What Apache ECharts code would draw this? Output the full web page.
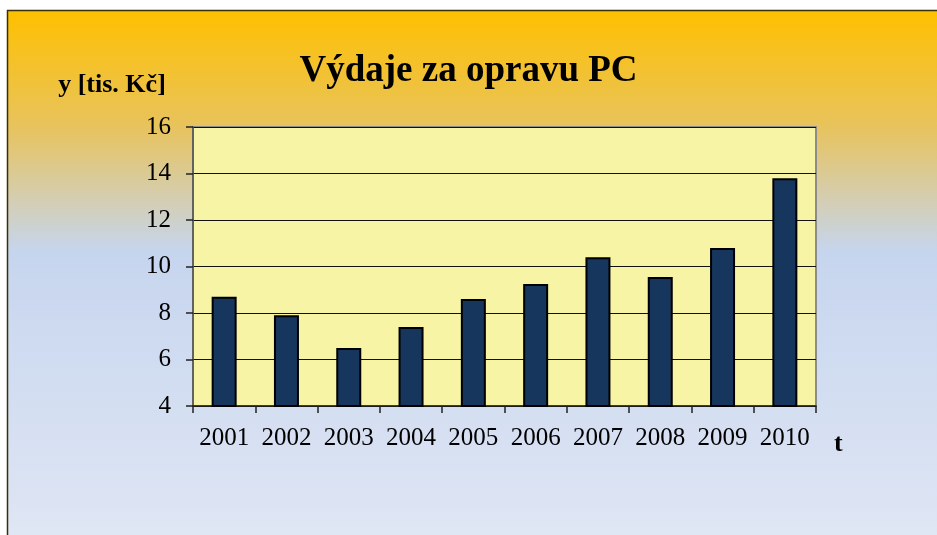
<!DOCTYPE html>
<html>
<head>
<meta charset="utf-8">
<script src="https://cdn.jsdelivr.net/npm/echarts@6/dist/echarts.min.js"></script>
<style>
  html, body { margin: 0; padding: 0; background: #fff; }
  #chart { width: 937px; height: 535px; }
</style>
</head>
<body>
<div id="chart"></div>
<script>
// data
var years = ['2001', '2002', '2003', '2004', '2005', '2006', '2007', '2008', '2009', '2010'];
var vydaje = [8.7, 7.9, 6.5, 7.4, 8.6, 9.25, 10.4, 9.55, 10.8, 13.8];
var yMin = 4, yMax = 16, yStep = 2;

var serif = '"Liberation Serif", "DejaVu Serif", serif';
var chart = echarts.init(document.getElementById('chart'));

var option = {
    backgroundColor: '#fff',
    animation: false,
    graphic: [
        // pozadi s prechodem
        {
            type: 'rect',
            z: -10,
            shape: { x: 7, y: 10, width: 930, height: 525 },
            style: {
                fill: new echarts.graphic.LinearGradient(0, 0, 0, 1, [
                    { offset: 0, color: '#FFC000' },
                    { offset: 0.22, color: '#E8C35C' },
                    { offset: 0.46, color: '#C6D5EE' },
                    { offset: 1, color: '#DFE6F4' }
                ]),
                stroke: null
            }
        },
        {
            type: 'polyline',
            z: -9,
            shape: { points: [[7.5, 535], [7.5, 10.5], [937, 10.5]] },
            style: { stroke: '#3b2d05', lineWidth: 1.5, fill: null }
        },
        {
            type: 'text',
            left: 834,
            top: 431,
            style: { text: 't', font: 'bold 26px ' + serif, fill: '#000' }
        }
    ],
    title: {
        text: 'Výdaje za opravu PC',
        left: 'center',
        top: 48,
        itemGap: 0,
        textStyle: { fontFamily: serif, fontWeight: 'bold', fontSize: 37, color: '#000' }
    },
    grid: {
        left: 193,
        top: 127,
        right: 121,
        bottom: 129,
        show: true,
        backgroundColor: '#F8F4A6',
        borderColor: '#8c8c8c',
        borderWidth: 2
    },
    xAxis: {
        type: 'category',
        data: years,
        axisLine: { lineStyle: { color: '#222', width: 1.5 } },
        axisTick: { show: true, length: 7, inside: false, lineStyle: { color: '#222', width: 1.5 } },
        axisLabel: { interval: 0, color: '#000', fontFamily: serif, fontSize: 25, margin: 20 },
        splitLine: { show: false }
    },
    yAxis: {
        type: 'value',
        min: yMin,
        max: yMax,
        interval: yStep,
        name: 'y [tis. Kč]',
        nameLocation: 'end',
        nameGap: 29,
        nameTextStyle: { fontFamily: serif, fontWeight: 'bold', fontSize: 26, color: '#000', align: 'center', padding: [0, 162, 0, 0] },
        axisLine: { show: true, lineStyle: { color: '#555', width: 1.5 } },
        axisTick: { show: true, length: 7, lineStyle: { color: '#222', width: 1.5 } },
        axisLabel: { color: '#000', fontFamily: serif, fontSize: 25, margin: 22 },
        splitLine: { show: true, lineStyle: { color: '#111', width: 1.2 } }
    },
    series: [{
        name: 'Výdaje',
        type: 'bar',
        data: vydaje,
        barWidth: 25,
        itemStyle: { color: '#17365D', borderColor: '#000', borderWidth: 2 }
    }]
};

chart.setOption(option);
</script>
</body>
</html>
